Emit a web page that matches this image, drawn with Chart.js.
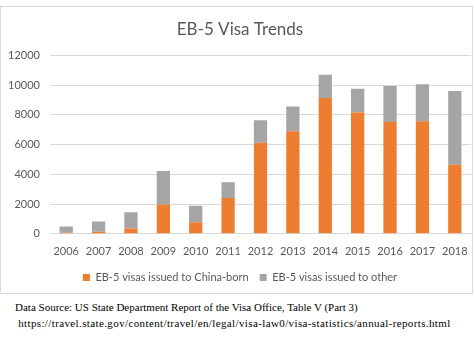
<!DOCTYPE html>
<html>
<head>
<meta charset="utf-8">
<script src="https://cdn.jsdelivr.net/npm/chart.js@4/dist/chart.umd.min.js"></script>
<style>
  html, body { margin: 0; padding: 0; background: #fff; width: 475px; height: 338px; overflow: hidden; }
  #box { position: absolute; left: 0; top: 6px; width: 471px; height: 286px; border: 1px solid #d9d9d9; }
  #note { position: absolute; left: 15px; top: 299px; font-family: "Liberation Serif", serif; font-size: 11px; line-height: 16px; color: #000; }
  #note .url { letter-spacing: 0.38px; }
</style>
</head>
<body>
<div id="box"><canvas id="visaChart" width="471" height="286"></canvas></div>
<div id="note">Data Source: US State Department Report of the Visa Office, Table V (Part 3)<br><span class="url">&nbsp;https://travel.state.gov/content/travel/en/legal/visa-law0/visa-statistics/annual-reports.html</span></div>
<script>
// EB-5 visas by fiscal year
const years = ['2006', '2007', '2008', '2009', '2010', '2011', '2012', '2013', '2014', '2015', '2016', '2017', '2018'];
const chinaBorn = [63, 130, 360, 1979, 772, 2408, 6124, 6895, 9128, 8156, 7512, 7567, 4642];
const otherBorn = [423, 700, 1083, 2239, 1113, 1055, 1517, 1669, 1564, 1608, 2435, 2488, 4960];
const yTicks = [0, 2000, 4000, 6000, 8000, 10000, 12000];

const textGrey = '#595959';
const font = 'Lato, "Open Sans", sans-serif';

const ctx = document.getElementById('visaChart').getContext('2d');

const chart = new Chart(ctx, {
    type: 'bar',
    data: {
        labels: years,
        datasets: [{
            label: 'EB-5 visas issued to China-born',
            data: chinaBorn,
            backgroundColor: '#ED7D31',
            barPercentage: 0.41,
            categoryPercentage: 1
        }, {
            label: 'EB-5 visas issued to other',
            data: otherBorn,
            backgroundColor: '#A5A5A5',
            barPercentage: 0.41,
            categoryPercentage: 1
        }]
    },
    options: {
        responsive: false,
        animation: false,
        layout: { padding: { left: 8, right: 1, top: 0, bottom: 0 } },
        plugins: {
            title: {
                display: true,
                text: 'EB-5 Visa Trends',
                color: textGrey,
                font: { family: font, size: 17, weight: 'normal' },
                padding: { top: 12, bottom: 16 }
            },
            legend: {
                position: 'bottom',
                labels: {
                    boxWidth: 7,
                    boxHeight: 7,
                    padding: 11,
                    color: textGrey,
                    font: { family: font, size: 11 }
                }
            },
            tooltip: { enabled: false }
        },
        scales: {
            x: {
                stacked: true,
                grid: { display: false },
                border: { color: '#d9d9d9' },
                ticks: { color: textGrey, font: { family: font, size: 11 }, maxRotation: 0, padding: 3 }
            },
            y: {
                stacked: true,
                min: 0,
                max: 12000,
                afterBuildTicks: axis => { axis.ticks = yTicks.map(v => ({ value: v })); },
                afterFit: axis => { axis.width = 41; },
                grid: { color: '#d9d9d9', drawTicks: false },
                border: { display: false },
                ticks: { color: textGrey, font: { family: font, size: 11 }, padding: 10, callback: v => String(v) }
            }
        }
    }
});
</script>
</body>
</html>
